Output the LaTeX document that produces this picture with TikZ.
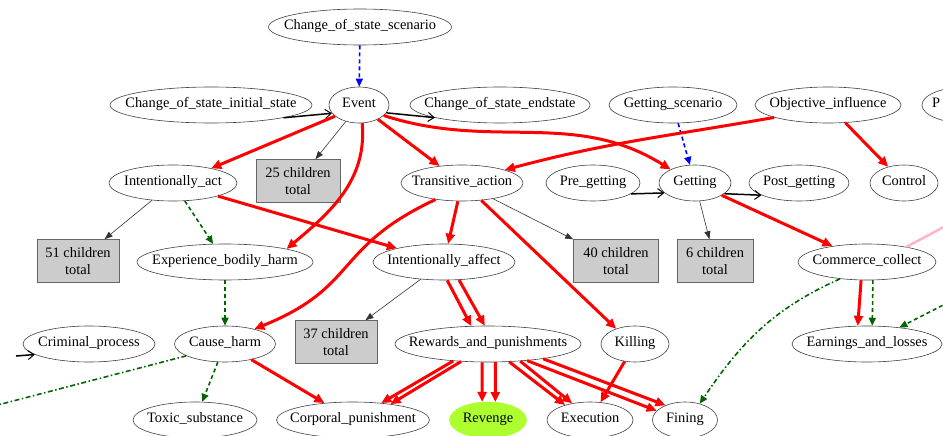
\documentclass[tikz,border=0pt]{standalone}
\usepackage{fontspec}
\setmainfont{Liberation Serif}
\usetikzlibrary{shapes.geometric,arrows.meta}

\definecolor{revgreen}{RGB}{173,255,47}
\definecolor{usegreen}{RGB}{0,100,0}
\definecolor{causepink}{RGB}{255,182,193}

\begin{document}
\begin{tikzpicture}[x=1pt,y=-1pt]
	\tikzstyle{every node}=[font=\fontsize{14.4}{16}\selectfont]
	\tikzstyle{frame}=[ellipse, draw=black!75, line width=0.6pt, minimum height=36pt, inner sep=0pt,
		text height=1.6ex, text depth=0.4ex,
		execute at begin node={\hbox to 0pt\bgroup\hss}, execute at end node={\hss\egroup}]
	\tikzstyle{count}=[rectangle, draw=black!60, fill=black!20, line width=0.6pt, minimum width=84pt, minimum height=43pt, inner sep=0pt, align=center, font=\fontsize{14.4}{17}\selectfont]
	\tikzstyle{inharr}=[draw=red, line width=3pt, -{Triangle[length=10pt,width=9pt]}]
	\tikzstyle{usearr}=[draw=usegreen, line width=1.6pt, dash pattern=on 4pt off 3pt, -{Triangle[length=8pt,width=7pt]}]
	\tikzstyle{seearr}=[draw=usegreen, line width=1.6pt, dash pattern=on 5pt off 2.5pt on 1.5pt off 2.5pt, -{Triangle[length=8pt,width=7pt]}]
	\tikzstyle{subarr}=[draw=blue, line width=1.6pt, dash pattern=on 4pt off 3pt, -{Triangle[length=8pt,width=7pt]}]
	\tikzstyle{precarr}=[draw=black, line width=1.5pt, -{Straight Barb[length=6pt,width=9pt,line width=1pt]}]
	\tikzstyle{childarr}=[draw=black!80, line width=0.6pt, -{Triangle[length=8pt,width=6pt]}]
	\tikzstyle{causeline}=[draw=causepink, line width=2.5pt]

	\useasboundingbox (0,0) rectangle (943,436);

	\node[frame, minimum width=183pt] (coss) at (360,27) {Change\_of\_state\_scenario};
	\node[frame, minimum width=60pt] (event) at (359,105) {Event};
	\node[frame, minimum width=202pt] (cosinit) at (211,105) {Change\_of\_state\_initial\_state};
	\node[frame, minimum width=180pt] (cosend) at (500,105) {Change\_of\_state\_endstate};
	\node[frame, minimum width=128pt] (gscen) at (673,105) {Getting\_scenario};
	\node[frame, minimum width=146pt] (objinf) at (828,105) {Objective\_influence};
	\node[frame, minimum width=88pt] (pframe) at (966,105) {P\kern60pt};

	\node[frame, minimum width=128pt] (iact) at (173,183) {Intentionally\_act};
	\node[count] (c25) at (298,181) {25 children\\total};
	\node[frame, minimum width=122pt] (trans) at (462,183) {Transitive\_action};
	\node[frame, minimum width=94pt] (pre) at (593,183) {Pre\_getting};
	\node[frame, minimum width=72pt] (getting) at (695,183) {Getting};
	\node[frame, minimum width=100pt] (post) at (799,183) {Post\_getting};
	\node[frame, minimum width=68pt] (control) at (904,183) {Control};

	\node[count, minimum width=82pt] (c51) at (78,261) {51 children\\total};
	\node[frame, minimum width=176pt] (ebh) at (225,262) {Experience\_bodily\_harm};
	\node[frame, minimum width=142pt] (iaff) at (444,262) {Intentionally\_affect};
	\node[count, minimum width=85pt] (c40) at (616,261) {40 children\\total};
	\node[count, minimum width=76pt] (c6) at (715,261) {6 children\\total};
	\node[frame, minimum width=138pt] (comm) at (867,262) {Commerce\_collect};

	\node[frame, minimum width=132pt] (crim) at (89,344) {Criminal\_process};
	\node[frame, minimum width=101pt] (harm) at (225,344) {Cause\_harm};
	\node[count, minimum width=82pt] (c37) at (336,342) {37 children\\total};
	\node[frame, minimum width=186pt] (rewards) at (488,344) {Rewards\_and\_punishments};
	\node[frame, minimum width=68pt] (killing) at (635,344) {Killing};
	\node[frame, minimum width=150pt] (earn) at (867,344) {Earnings\_and\_losses};

	\node[frame, minimum width=124pt] (toxic) at (195,420) {Toxic\_substance};
	\node[frame, minimum width=153pt] (corporal) at (353,420) {Corporal\_punishment};
	\node[frame, minimum width=77pt, fill=revgreen, draw=revgreen] (revenge) at (488,420) {Revenge};
	\node[frame, minimum width=86pt] (exec) at (590,420) {Execution};
	\node[frame, minimum width=65pt] (fining) at (685,420) {Fining};

	\coordinate (offl1) at (16,356);
	\coordinate (offl2) at (-10,407);
	\coordinate (offr1) at (955,221);
	\coordinate (offr2) at (955,299);

	\draw[subarr] (coss) -- (event);
	\draw[subarr] (gscen) -- (getting);

	\draw[precarr] (cosinit.-10) -- (event.-163);
	\draw[precarr] (event.-16) -- (cosend.-169);
	\draw[precarr] (pre.-16) -- (getting.-162);
	\draw[precarr] (getting.-20) -- (post.-162);
	\draw[precarr] (offl1) -- (crim.-169);

	\draw[childarr] (event) -- (c25);
	\draw[childarr] (iact) -- (c51);
	\draw[childarr] (trans) -- (c40);
	\draw[childarr] (getting) -- (c6);
	\draw[childarr] (iaff) -- (c37);

	\draw[inharr] (event.-155) -- (iact.21);
	\draw[inharr] (event.-80) to[out=-85,in=40] (ebh.12);
	\draw[inharr] (event) -- (trans);
	\draw[inharr] (event.-23) to[out=-18,in=148] (getting.151);
	\draw[inharr] (objinf.-167) to[out=190,in=15] (trans.17);
	\draw[inharr] (objinf) -- (control);
	\draw[inharr] (getting) -- (comm);
	\draw[inharr] (iact) -- (iaff);
	\draw[inharr] (trans.-148) to[out=-155,in=22,looseness=1.3] (harm.27);
	\draw[inharr] (trans) -- (iaff);
	\draw[inharr] (trans.-42) -- (killing.141);
	\draw[inharr] (iaff.-80) -- (rewards.133);
	\draw[inharr] (iaff.-50) -- (rewards.100);
	\draw[inharr] (harm) -- (corporal);
	\draw[inharr] (rewards.-154) -- (corporal.31);
	\draw[inharr] (rewards.-147) -- (corporal.23);
	\draw[inharr] (rewards.-108) -- (revenge.108);
	\draw[inharr] (rewards.-68) -- (revenge.68);
	\draw[inharr] (rewards.-40) -- (exec.149);
	\draw[inharr] (rewards.-28) -- (exec.137);
	\draw[inharr] (rewards.-23) -- (fining.162);
	\draw[inharr] (rewards.-15) -- (fining.143);
	\draw[inharr] (killing) -- (exec);
	\draw[inharr] (comm.-108) -- (earn.117);

	\draw[usearr] (iact) -- (ebh);
	\draw[usearr] (ebh) -- (harm);
	\draw[usearr] (harm) -- (toxic);
	\draw[usearr] (comm.-72) -- (earn.74);
	\draw[usearr] (offr2) -- (earn.27);

	\draw[seearr] (comm.-148) to[out=-156,in=56] (fining.48);
	\draw[seearr] (harm.-163) -- (offl2);

	\draw[causeline] (offr1) -- (comm.21);
\end{tikzpicture}
\end{document}
